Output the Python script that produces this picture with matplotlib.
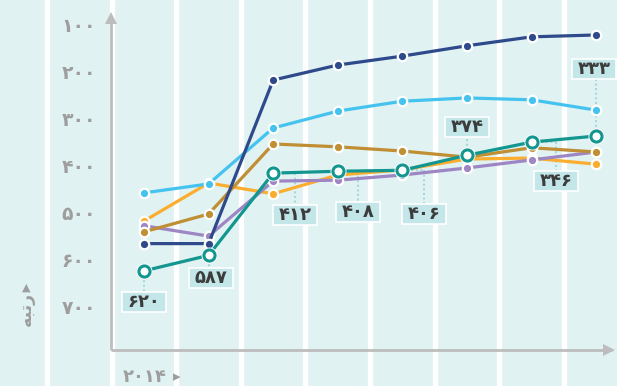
import matplotlib.pyplot as plt
from matplotlib.patches import Rectangle

years = [2014, 2015, 2016, 2017, 2018, 2019, 2020, 2021]
navy_rank = [562, 562, 214, 182, 163, 141, 122, 118]
sky_rank = [454, 435, 316, 280, 259, 252, 256, 278]
orange_rank = [514, 433, 456, 416, 405, 382, 380, 393]
purple_rank = [524, 546, 429, 427, 416, 401, 384, 367]
brown_rank = [537, 499, 350, 356, 365, 378, 358, 367]
teal_rank = [620, 587, 412, 408, 406, 374, 346, 333]
y_ticks = [100, 200, 300, 400, 500, 600, 700]

# label box centres (year, rank) for the teal series
label_pos = [(2014.0, 686), (2015.04, 635), (2016.34, 501), (2017.32, 495),
             (2018.33, 498), (2019.0, 313), (2020.38, 429), (2020.97, 191)]

BG = '#e1f2f3'
FA_DIGITS = str.maketrans('0123456789', '۰۱۲۳۴۵۶۷۸۹')


def fa(n):
    return str(n).translate(FA_DIGITS)


fig = plt.figure(figsize=(6.17, 3.86), dpi=100, facecolor=BG)
ax = fig.add_axes([0, 0, 1, 1])
ax.set_facecolor(BG)
ax.set_xlim(2011.771, 2021.322)
ax.set_ylim(865, 43.6)
ax.axis('off')

px_x = 1 / 64.6   # years per pixel
px_y = 1 / 0.47   # rank per pixel

# white year stripes
for yr in range(2012, 2021):
    ax.axvline(yr + 0.5, color='white', lw=3.8, zorder=0)

# axes with arrows
x_axis = 2014 - 33 * px_x
ax.plot([x_axis, x_axis], [788, 92], color='#bdbdbd', lw=2, zorder=1,
        solid_capstyle='butt')
ax.plot(x_axis, 82, marker='^', ms=8, color='#bdbdbd', mew=0, zorder=1)
ax.plot([x_axis, 2021.25], [788, 788], color='#bdbdbd', lw=2, zorder=1,
        solid_capstyle='butt')
ax.plot(2021.2, 788, marker='>', ms=8, color='#bdbdbd', mew=0, zorder=1)

for t in y_ticks:
    ax.text(2014 - 48 * px_x, t, fa(t), ha='right', va='center',
            fontsize=13.5, fontweight='bold', color='#9e9e9e')

ax.text(2014 - 21 * px_x, 862 - 8 * px_y, fa(2014), ha='left', va='center',
        fontsize=13, fontweight='bold', color='#9e9e9e')
ax.text(2014 + 33 * px_x, 862 - 8 * px_y, '▸', ha='center', va='center',
        fontsize=11, color='#9e9e9e')
ax.text(2014 - 118 * px_x, 700, '\uFEEA\uFE92\uFE97\uFEAD', rotation=90,
        ha='center', va='center', fontsize=12.5, fontweight='bold',
        color='#9e9e9e')
ax.text(2014 - 118 * px_x, 655, '▲', ha='center', va='center',
        fontsize=8, color='#9e9e9e')

series = [
    (orange_rank, '#fbad2f', 3),
    (purple_rank, '#9d86c3', 3),
    (brown_rank, '#c08e33', 3),
    (sky_rank, '#45c3ef', 4),
    (navy_rank, '#2e4a8b', 5),
]
for vals, col, z in series:
    ax.plot(years, vals, color=col, lw=2.3, zorder=z, marker='o', ms=6.8,
            mfc=col, mec='white', mew=1.6)

# teal series with hollow markers
ax.plot(years, teal_rank, color='#12968f', lw=2.3, zorder=7)
ax.plot(years, teal_rank, ls='none', marker='o', ms=10, mfc='white',
        mec='white', mew=1.5, zorder=8)
ax.plot(years, teal_rank, ls='none', marker='o', ms=8, mfc='white',
        mec='#12968f', mew=2.2, zorder=9)

# value labels with dotted leaders
bw, bh = 44 * px_x, 20 * px_y
lead = dict(color='#a6d9db', lw=1.5, ls=(0, (1, 1.2)), zorder=2)
for yr, val, (lx, ly) in zip(years, teal_rank, label_pos):
    edge = ly - bh / 2 if ly > val else ly + bh / 2
    if abs(lx - yr) > 0.1:
        ax.plot([yr, lx], [val, val], **lead)
        ax.plot([lx, lx], [val, edge], **lead)
    else:
        ax.plot([yr, yr], [val, edge], **lead)
    ax.add_patch(Rectangle((lx - bw / 2, ly - bh / 2), bw, bh,
                           facecolor='#c3e6e9', edgecolor='white', lw=1.2,
                           zorder=10))
    ax.text(lx, ly, fa(val), ha='center', va='center', fontsize=13,
            fontweight='bold', color='#3c3c3c', zorder=11)

fig.savefig('out.png', dpi=100, facecolor=BG)
